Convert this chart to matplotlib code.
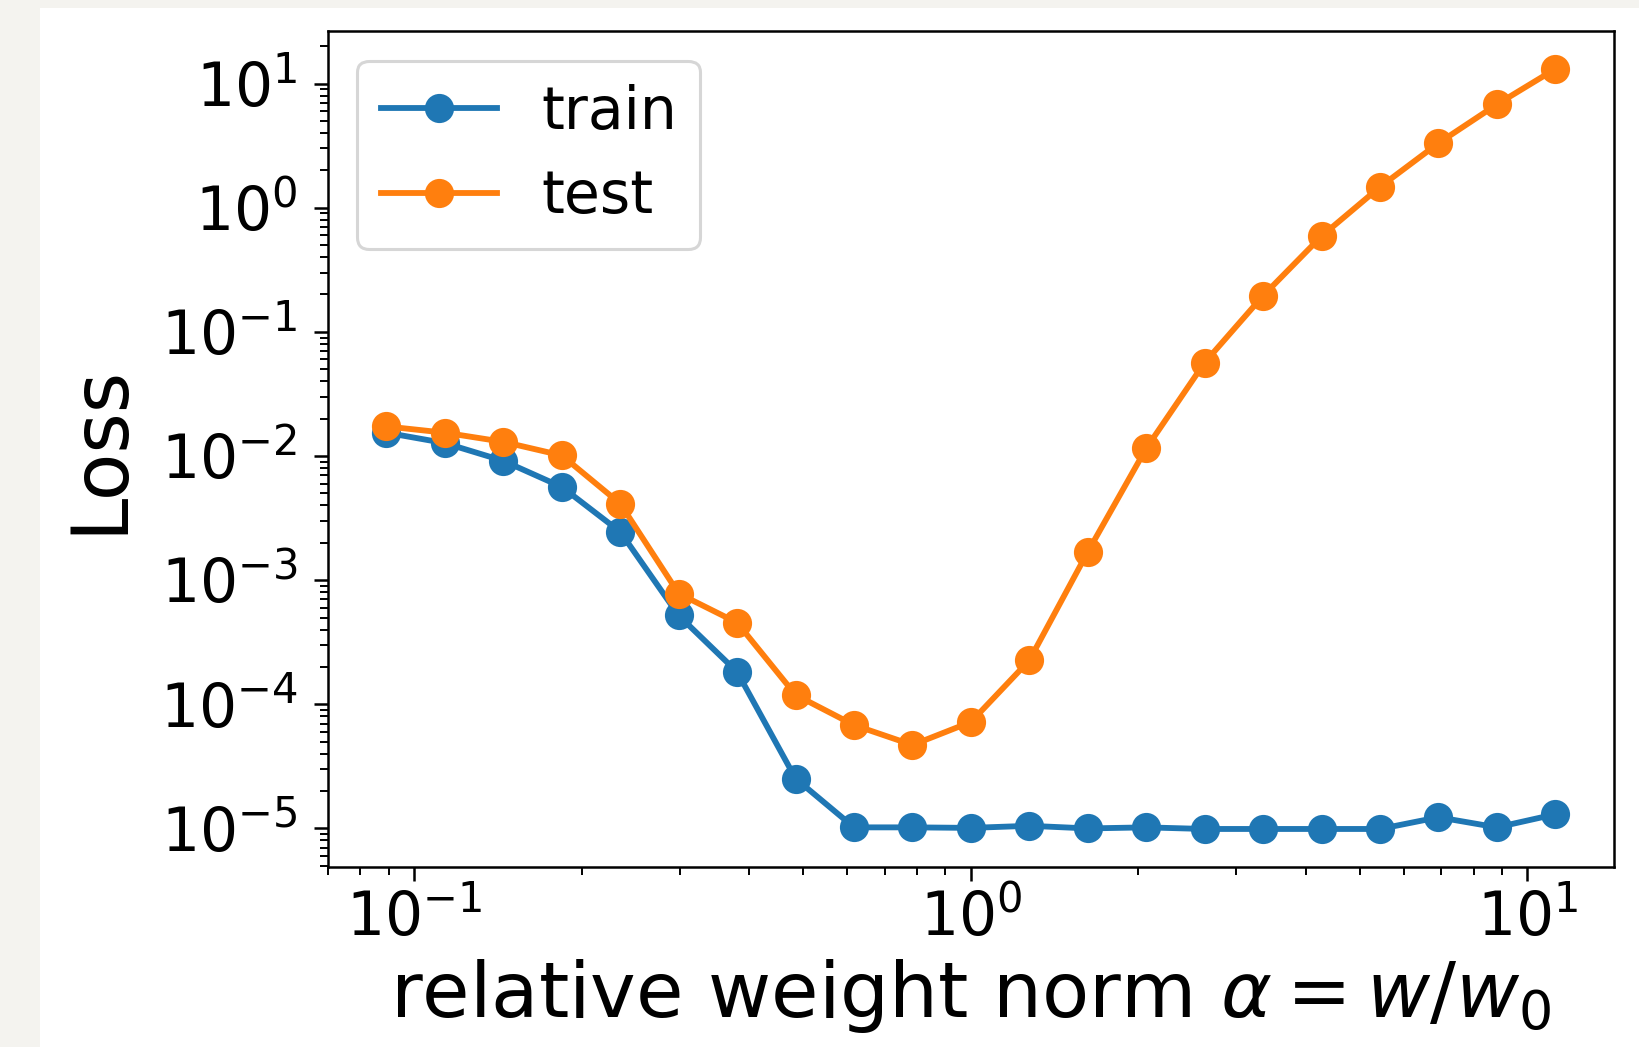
import matplotlib
matplotlib.use('Agg')
import matplotlib.pyplot as plt
from matplotlib.patches import Rectangle
from matplotlib.ticker import LogLocator

# relative weight norm alpha (log spaced)
alpha = [0.0891, 0.1135, 0.1445, 0.1841, 0.2344, 0.2985, 0.3802, 0.4842,
         0.6166, 0.7852, 1.0, 1.2735, 1.6218, 2.0654, 2.6303, 3.3497,
         4.2658, 5.4325, 6.9183, 8.8105, 11.22]

train_loss = [0.0154, 0.0127, 0.00914, 0.00563, 0.00245, 0.000519, 0.000182,
              2.52e-5, 1.02e-5, 1.02e-5, 1.01e-5, 1.05e-5, 1.0e-5, 1.02e-5,
              0.99e-5, 0.99e-5, 0.99e-5, 0.99e-5, 1.23e-5, 1.02e-5, 1.3e-5]

test_loss = [0.0173, 0.0154, 0.0130, 0.0101, 0.00413, 0.00078, 0.000454,
             0.000119, 6.8e-5, 4.7e-5, 7.2e-5, 0.000226, 0.00169, 0.01153,
             0.0566, 0.1955, 0.590, 1.47, 3.31, 6.79, 13.1]

fig = plt.figure(figsize=(8.2, 5.235), dpi=200, facecolor='#f4f3ef')
# white page area (screenshot has a grey margin on the left and top)
fig.patches.append(Rectangle((40 / 1640, 0), 1, 1 - 8 / 1047, transform=fig.transFigure,
                             facecolor='white', edgecolor='none', zorder=-1))

ax = fig.add_axes([0.2, 0.172, 0.784, 0.798])
ax.plot(alpha, train_loss, '-o', color='#1f77b4', lw=2.1, ms=9.5, label='train')
ax.plot(alpha, test_loss, '-o', color='#ff7f0e', lw=2.1, ms=9.5, label='test')

ax.set_xscale('log')
ax.set_yscale('log')
ax.set_ylim(10 ** -5.31, 10 ** 1.42)
ax.yaxis.set_major_locator(LogLocator(base=10, numticks=20))
ax.yaxis.set_minor_locator(LogLocator(base=10, subs=range(2, 10), numticks=20))

ax.set_xlabel(r'relative weight norm $\alpha = w/w_0$', fontsize=27.8, labelpad=3)
ax.set_ylabel('Loss', fontsize=28, labelpad=8)

ax.tick_params(which='major', labelsize=21.5, length=5, width=0.9)
ax.tick_params(which='minor', length=3, width=0.7)
ax.tick_params(axis='x', which='major', pad=3)
ax.tick_params(axis='y', which='major', pad=6)
for s in ax.spines.values():
    s.set_linewidth(0.9)

leg = ax.legend(loc='upper left', fontsize=21, borderpad=0.4, labelspacing=0.47,
                handletextpad=0.75, borderaxespad=0.5)
leg.get_frame().set_linewidth(1.1)

fig.savefig('out.png', dpi=200, facecolor=fig.get_facecolor())
